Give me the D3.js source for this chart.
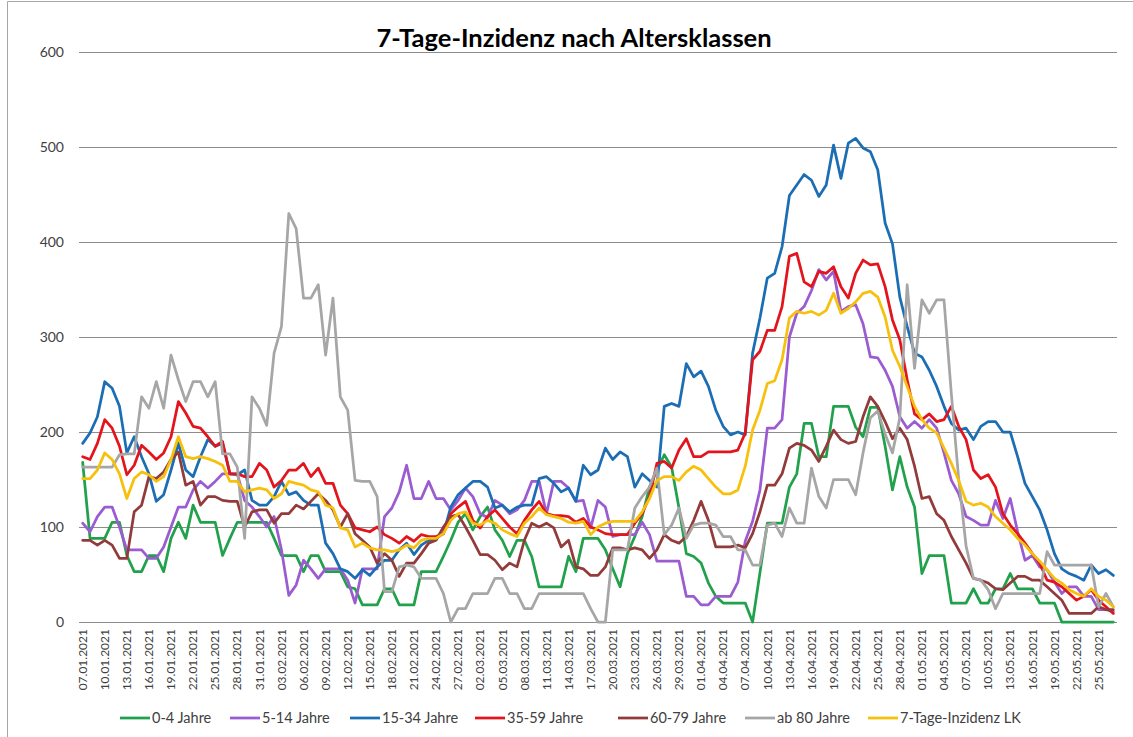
<!DOCTYPE html>
<html><head><meta charset="utf-8">
<script src="https://cdn.jsdelivr.net/npm/d3@7"></script>
<style>
html,body{margin:0;padding:0;background:#fff;}
svg{display:block;}
text{font-family:Lato,"Open Sans",sans-serif;}
</style></head>
<body><svg id="c" width="1133" height="737"></svg>
<script>
// ---- data ----
const startDate = "2021-01-07";
const nDays = 141;
const yTicks = [0,100,200,300,400,500,600];
const seriesNames = ["0-4 Jahre","5-14 Jahre","15-34 Jahre","35-59 Jahre","60-79 Jahre","ab 80 Jahre","7-Tage-Inzidenz LK"];
const seriesColors = ["#22a14c","#9b5bd1","#1b6eb4","#e3141b","#933b3b","#a6a6a6","#f6c00c"];

const age0_4 = [168,88,88,88,105,105,70,53,53,70,70,53,88,105,88,123,105,105,105,70,88,105,105,105,105,105,88,70,70,70,53,70,70,53,53,53,37,35,18,18,18,35,35,18,18,18,53,53,53,69,86,105,114,97,111,121,97,86,69,86,86,69,37,37,37,37,69,53,88,88,88,76,56,37,72,90,111,142,160,176,163,120,72,69,62,41,27,20,20,20,20,0,52,104,104,104,142,156,209,209,174,174,227,227,227,205,195,226,226,185,139,174,142,121,51,70,70,70,20,20,20,35,20,20,35,35,51,35,35,35,20,20,20,0,0,0,0,0,0,0,0];
const age5_14 = [104,95,111,121,121,100,76,76,76,67,67,79,100,121,121,139,148,141,148,156,156,156,128,121,111,100,111,76,28,39,65,56,46,56,56,56,44,20,56,56,56,111,120,137,165,130,130,148,130,130,118,128,141,132,114,110,128,123,114,118,128,148,148,114,148,148,141,127,128,99,128,121,90,92,92,92,105,92,64,64,64,64,27,27,18,18,27,27,27,42,85,106,139,204,204,213,300,325,332,349,371,360,369,327,332,334,314,279,278,265,248,216,204,211,204,213,204,178,149,135,111,107,102,102,128,109,130,95,65,70,58,55,42,30,37,37,27,27,13,13,11];
const age15_34 = [188,199,216,253,246,227,178,195,174,156,127,134,160,188,160,153,174,192,185,188,156,155,160,128,123,123,132,148,134,137,128,123,123,83,72,56,53,46,55,49,58,65,65,76,83,71,81,86,88,93,121,134,141,148,148,142,120,123,116,121,123,123,151,153,146,137,141,127,165,155,160,183,171,179,174,142,156,149,142,227,230,227,272,258,264,248,223,206,197,200,197,283,320,362,367,395,449,460,471,465,448,460,502,467,504,509,499,495,476,420,398,342,311,283,279,265,248,227,209,202,204,192,206,211,211,200,200,174,146,132,118,97,72,56,51,48,44,60,51,55,49];
const age35_59 = [174,171,188,213,204,185,155,165,186,179,171,178,195,232,220,206,204,195,185,190,156,156,153,153,167,160,142,149,160,160,167,153,162,146,146,123,114,99,97,95,100,92,88,83,90,85,92,90,90,93,114,121,127,107,99,111,118,109,100,93,107,118,127,114,112,112,111,105,109,100,97,93,92,92,92,104,114,132,167,169,162,181,193,174,174,179,179,179,179,181,199,276,285,307,307,332,385,388,358,353,369,367,374,353,341,367,381,376,377,353,318,297,255,219,213,219,211,213,227,206,192,160,151,155,142,114,102,93,83,72,62,44,42,37,30,23,27,34,23,16,9];
const age60_79 = [86,86,81,86,81,67,67,116,123,153,151,158,171,179,144,148,123,132,132,128,127,127,100,116,118,118,104,114,114,123,119,127,135,128,118,100,114,93,86,79,62,72,65,48,62,62,72,83,86,100,111,113,100,86,71,71,65,55,62,58,86,104,100,104,99,79,86,58,56,49,49,58,78,78,76,78,76,67,76,92,86,83,90,107,127,107,79,79,79,81,78,93,116,144,144,156,183,188,186,181,169,185,202,192,188,190,216,237,227,211,193,204,192,164,130,132,114,107,90,76,62,46,44,41,35,34,41,48,48,44,44,37,30,23,9,9,9,9,16,13,13];
const age80 = [163,163,163,163,163,176,177,177,237,225,253,225,281,255,232,253,253,237,253,177,177,163,88,237,225,207,283,311,430,414,341,341,355,281,341,237,223,149,148,148,132,32,32,58,60,58,46,46,46,30,0,14,14,30,30,30,46,46,30,30,14,14,30,30,30,30,30,30,30,14,0,0,76,76,76,120,132,142,162,92,102,120,88,102,104,104,102,90,90,76,76,60,60,102,104,90,120,104,104,162,132,120,150,150,150,134,178,215,222,198,178,215,355,267,339,325,339,339,240,150,80,46,44,34,14,30,30,30,30,30,30,74,60,60,60,60,60,60,16,30,16];
const inzidenzLK = [151,151,160,178,171,156,130,151,158,155,148,153,171,195,174,172,174,172,169,165,148,148,137,139,141,139,130,135,148,146,144,139,137,123,120,99,97,79,83,78,76,76,74,76,81,78,86,88,88,93,107,114,116,104,102,107,104,97,93,90,104,111,120,113,111,109,105,104,106,92,100,104,106,106,106,106,116,130,149,153,153,149,158,164,160,151,142,135,135,139,164,202,223,251,254,276,320,327,325,327,323,328,346,325,330,337,346,348,342,321,286,269,248,227,213,204,199,183,167,149,127,123,125,121,111,104,97,88,81,72,64,55,46,41,34,30,27,35,27,23,16];

const series = [age0_4, age5_14, age15_34, age35_59, age60_79, age80, inzidenzLK];

// ---- layout ----
const W = 1133, H = 737;
const plot = {left:79, right:1117, top:52, bottom:622};
const fmt = d3.timeFormat("%d.%m.%Y");
const dates = d3.timeDay.range(new Date(startDate+"T00:00:00"), d3.timeDay.offset(new Date(startDate+"T00:00:00"), nDays));

const svg = d3.select("#c");
svg.append("rect").attr("width",W).attr("height",H).attr("fill","#fff");
svg.append("path").attr("d",`M7.5,${H}V1.5H${W}`).attr("fill","none").attr("stroke","#a6a6a6").attr("stroke-width",1);

const x = d3.scaleBand().domain(d3.range(nDays)).range([plot.left, plot.right]).paddingInner(0).paddingOuter(0);
const cx = i => x(i) + x.bandwidth()/2;
const y = d3.scaleLinear().domain([0,600]).range([plot.bottom, plot.top]);

// y axis + gridlines
const ya = svg.append("g").attr("transform",`translate(${plot.left},0)`)
  .call(d3.axisLeft(y).tickValues(yTicks).tickSize(-(plot.right-plot.left)).tickPadding(15).tickFormat(d3.format("d")));
ya.select(".domain").remove();
ya.selectAll(".tick line").attr("stroke","#8c8c8c").attr("stroke-width",1);
ya.selectAll(".tick text").attr("fill","#404040").style("font-size","14px").style("font-family","Lato, 'Open Sans', sans-serif");

// x axis labels
const tickIdx = d3.range(0, nDays, 3);
const xa = svg.append("g").attr("transform",`translate(0,${plot.bottom})`)
  .call(d3.axisBottom(x).tickValues(tickIdx).tickSize(0).tickFormat(i => fmt(dates[i])));
xa.select(".domain").remove();
xa.selectAll(".tick text")
  .attr("transform","rotate(-90)")
  .attr("text-anchor","end")
  .attr("x",-7).attr("y",0).attr("dy","0.35em")
  .attr("fill","#404040")
  .style("font-size","12px").style("font-family","Lato, 'Open Sans', sans-serif");

// lines
const line = d3.line().x((d,i)=>cx(i)).y(d=>y(d)).curve(d3.curveLinear);
const lg = svg.append("g");
series.forEach((s,k)=>{
  lg.append("path").datum(s).attr("d",line)
    .attr("fill","none").attr("stroke",seriesColors[k]).attr("stroke-width",2.75)
    .attr("stroke-linejoin","round").attr("stroke-linecap","round");
});

// title
svg.append("text").attr("x",574).attr("y",47).attr("text-anchor","middle")
  .style("font-family","Lato, 'Open Sans', sans-serif").style("font-weight","700").style("font-size","25.5px")
  .attr("fill","#000").text("7-Tage-Inzidenz nach Altersklassen");

// legend
const legX = [120, 230, 350, 475, 618, 745, 868];
const legY = 718;
const leg = svg.append("g");
seriesNames.forEach((n,k)=>{
  const g = leg.append("g").attr("transform",`translate(${legX[k]},${legY})`);
  g.append("line").attr("x1",0).attr("x2",30).attr("y1",0).attr("y2",0)
    .attr("stroke",seriesColors[k]).attr("stroke-width",2.75);
  g.append("text").attr("x",32).attr("y",0).attr("dy","0.35em")
    .style("font-size","14.5px").attr("fill","#404040").text(n);
});
</script>
</body></html>
